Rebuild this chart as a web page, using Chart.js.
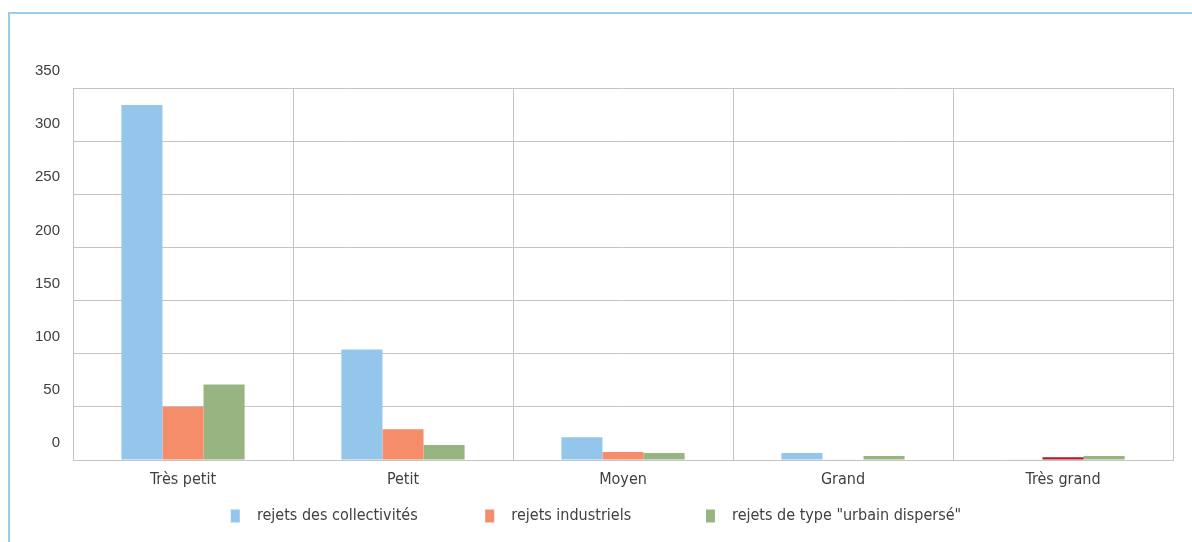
<!DOCTYPE html>
<html>
<head>
<meta charset="utf-8">
<script src="https://cdn.jsdelivr.net/npm/chart.js@4.4.1/dist/chart.umd.min.js"></script>
<style>
  html, body { margin: 0; padding: 0; background: #fff; }
  #wrap { position: relative; width: 1192px; height: 542px; overflow: hidden; }
  #frame { position: absolute; left: 8px; top: 12px; right: 0; bottom: 0;
           border-top: 2px solid #9ccbec; border-left: 2px solid #9ccbec; }
  canvas { position: absolute; left: 0; top: 0; }
</style>
</head>
<body>
<div id="wrap">
  <div id="frame"></div>
  <canvas id="myChart" width="1192" height="542"></canvas>
</div>
<script>
// categories and series
const categories = ["Très petit", "Petit", "Moyen", "Grand", "Très grand"];
const seriesNames = ["rejets des collectivités", "rejets industriels", 'rejets de type "urbain dispersé"'];
const collectivites = [334, 104, 21.5, 6.5, 0.6];
const industriels = [50, 29, 7.5, 0.6, 2.5];
const urbainDisperse = [71, 14, 6.5, 3.8, 3.8];
const yTicks = [0, 50, 100, 150, 200, 250, 300, 350];

const textColor = "#404040";
const gridColor = "#c4c4c4";
const labelFont = "'DejaVu Sans Condensed', 'Liberation Sans Narrow', sans-serif";

//chart script//
const canvas = document.getElementById("myChart").getContext("2d");
const dataChart = new Chart(canvas, {
  type: "bar",
  data: {
    labels: categories,
    datasets: [
      {
        label: seriesNames[0],
        data: collectivites,
        backgroundColor: ["#94c5ea", "#94c5ea", "#94c5ea", "#94c5ea", "#d8e9f6"],
      },
      {
        label: seriesNames[1],
        data: industriels,
        backgroundColor: ["#f58d6b", "#f58d6b", "#f58d6b", "#d8e9f6", "#b5192c"],
      },
      {
        label: seriesNames[2],
        data: urbainDisperse,
        backgroundColor: "#98b581",
      },
    ],
  },
  options: {
    responsive: false,
    maintainAspectRatio: false,
    animation: false,
    layout: { padding: { left: 19, right: 19, top: 88, bottom: 8 } },
    datasets: {
      bar: { categoryPercentage: 0.56, barPercentage: 1 },
    },
    plugins: {
      tooltip: { enabled: false },
      legend: {
        position: "bottom",
        labels: {
          color: textColor,
          font: { family: labelFont, size: 16 },
          boxWidth: 9,
          boxHeight: 13,
          padding: 10,
          generateLabels: (chart) => {
            const items = Chart.defaults.plugins.legend.labels.generateLabels(chart);
            const tails = ["\u2003\u2003\u2003\u2003", "\u2003\u2003\u2003\u2003\u2002", ""];
            items.forEach((it, i) => {
              it.fillStyle = i === 0 ? "#94c5ea" : i === 1 ? "#f58d6b" : "#98b581";
              it.strokeStyle = it.fillStyle;
              it.lineWidth = 0;
              it.text = "  " + it.text + tails[i];
            });
            return items;
          },
        },
      },
    },
    scales: {
      x: {
        grid: { color: gridColor, drawTicks: false, offset: true },
        border: { color: gridColor },
        ticks: {
          color: textColor,
          padding: 10,
          font: { family: labelFont, size: 16 },
        },
        afterFit: (scale) => {
          scale.height = 38;
        },
      },
      y: {
        min: 0,
        max: 350,
        afterBuildTicks: (scale) => {
          scale.ticks = yTicks.map((v) => ({ value: v }));
        },
        grid: { color: gridColor, drawTicks: false },
        border: { color: gridColor },
        ticks: {
          color: textColor,
          padding: 13,
          labelOffset: -17,
          font: { family: "'Liberation Sans', Arial, sans-serif", size: 15 },
        },
        afterFit: (scale) => {
          scale.width = 54;
        },
      },
    },
  },
});
</script>
</body>
</html>
